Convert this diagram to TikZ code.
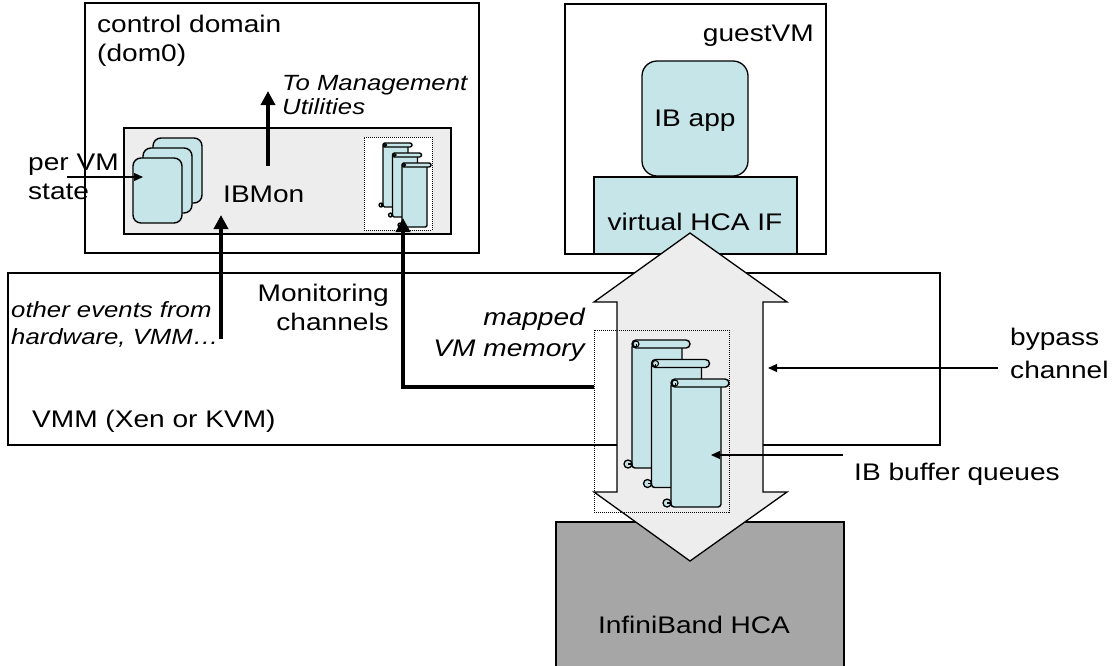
\documentclass[tikz,border=0pt]{standalone}
\usepackage{fontspec}
\setmainfont[FakeStretch=1.17]{Liberation Sans}
\usetikzlibrary{arrows.meta,fit}

\definecolor{paleteal}{RGB}{197,229,232}
\definecolor{panelgray}{RGB}{237,237,237}
\definecolor{hcagray}{RGB}{166,166,166}

\tikzset{
  frame/.style={draw=black, line width=1.3pt, inner sep=0pt, outer sep=0pt},
  txt/.style={font=\fontsize{24}{29}\selectfont, inner sep=0pt},
  itxt/.style={font=\fontsize{24}{29}\selectfont\itshape, inner sep=0pt},
  itxtsmall/.style={font=\fontsize{22}{26}\selectfont\itshape, inner sep=0pt},
  thickarrow/.style={line width=4.5pt, line join=miter, -{Triangle[width=14pt,length=14pt]}},
  thinarrow/.style={line width=1.2pt, -{Triangle[width=8pt,length=9pt]}},
  dottedframe/.style={draw=black, line width=1pt, dash pattern=on 1pt off 1pt, inner sep=0pt, outer sep=0pt},
  card/.style={draw=black, line width=1.4pt, fill=paleteal, rounded corners=8pt},
  % a rolled paper scroll; the argument is the rounding of its top bar
  pics/scrollpic/.style={code={
    % body of the scroll
    \filldraw[fill=paleteal, line width=1.4pt, rounded corners=#1*0.75] (0,4) rectangle (50,128);
    % rolled-up lower edge
    \filldraw[fill=paleteal, line width=1.3pt] (-4,124) circle (4pt);
    \draw[line width=1.1pt] (-4,124) -- (0,124);
    % rolled-up top bar
    \filldraw[fill=paleteal, line width=1.4pt, rounded corners=#1] (0,0) rectangle (58,8);
    \filldraw[fill=paleteal, line width=1.1pt] (4,4) circle (3pt);
    \draw[line width=1pt] (4,4) -- (4,7);
  }},
}

\begin{document}
\begin{tikzpicture}[x=1pt,y=-1pt]
\useasboundingbox (0,0) rectangle (1118,665);

% control domain
\node[frame, fill=white, fit={(85,3)(479,253)}] (dom0) {};
\node[frame, fill=panelgray, fit={(124,128)(451,234)}] (ibmon) {};
\draw[card] (153,138) rectangle (202,203);
\draw[card] (143,148) rectangle (192,213);
\draw[card] (133,158) rectangle (182,223);
\node[dottedframe, fill=white, fit={(364,137)(432,230)}] (smallq) {};
\pic[scale=0.5] at (383,143) {scrollpic=2pt};
\pic[scale=0.5] at (392.5,153) {scrollpic=2pt};
\pic[scale=0.5] at (402,163) {scrollpic=2pt};

% guest VM
\node[frame, fill=white, fit={(565,4)(826,254)}] (guest) {};
\node[frame, fill=paleteal, rounded corners=15pt, fit={(642,61)(748,176)}] (app) {};
\node[frame, fill=paleteal, fit={(594,177)(797,254)}] (vhca) {};

% hypervisor and adapter (the adapter runs off the lower edge)
\node[frame, fit={(8,273)(940,445)}] (vmm) {};
\node[frame, fill=hcagray, fit={(556,522)(844,680)}] (hca) {};

% bypass channel
\filldraw[fill=panelgray, line width=1.3pt, line join=miter]
  (690,233) -- (787,302) -- (763,302) -- (763,492) -- (787,492) -- (690,561)
  -- (594,492) -- (617,492) -- (617,302) -- (594,302) -- cycle;
\coordinate (bypassedge) at (768,368);

% buffer queues
\node[dottedframe, fit={(594,330)(729,512)}] (bigq) {};
\pic at (632,340) {scrollpic=4pt};
\pic at (651.5,359.5) {scrollpic=4pt};
\pic at (671,379) {scrollpic=4pt};
\coordinate (queuepoint) at (711,455);

% thick monitoring arrows
\coordinate (mgmtfrom) at (268,166);
\coordinate (mgmtto) at (268,91);
\draw[thickarrow] (mgmtfrom) -- (mgmtto);
\coordinate (evtfrom) at (221,339);
\coordinate (evtto) at (221,215);
\draw[thickarrow] (evtfrom) -- (evtto);
\coordinate (monfrom) at (594,387);
\coordinate (monbend) at (403,387);
\coordinate (monto) at (403,218);
\draw[thickarrow] (monfrom) -- (monbend) -- (monto);

% labels
\node[txt, anchor=base west] (dom0a) at (97,32) {control domain};
\node[txt, anchor=base west] (dom0b) at (97,61) {(dom0)};
\node[itxtsmall, anchor=base west] (mgmta) at (282,90) {To Management};
\node[itxtsmall, anchor=base west] (mgmtb) at (282,114) {Utilities};
\node[txt, anchor=base west] (pervma) at (28,170) {per VM};
\node[txt, anchor=base west] (pervmb) at (28,199) {state};
\coordinate (pervmfrom) at (67,177);
\coordinate (pervmto) at (143,177);
\draw[thinarrow] (pervmfrom) -- (pervmto);
\node[txt, anchor=base west] (ibmonlabel) at (223,202) {IBMon};
\node[txt, anchor=base east] (mona) at (389,301) {Monitoring};
\node[txt, anchor=base east] (monb) at (389,330) {channels};
\node[itxtsmall, anchor=base west] (evta) at (11,317) {other events from};
\node[itxtsmall, anchor=base west] (evtb) at (11,344) {hardware, VMM…};
\node[itxt, anchor=base east] (mapa) at (585,325) {mapped};
\node[itxt, anchor=base east] (mapb) at (585,356) {VM memory};
\node[txt, anchor=base west] (vmmlabel) at (32,427) {VMM (Xen or KVM)};
\node[txt, anchor=base east] (guestlabel) at (814,41) {guestVM};
\node[txt, anchor=base] (applabel) at (695,126) {IB app};
\node[txt, anchor=base] (vhcalabel) at (695,230) {virtual HCA IF};
\node[txt, anchor=base west] (bypassa) at (1010,345) {bypass};
\node[txt, anchor=base west] (bypassb) at (1010,378) {channel};
\coordinate (bypassfrom) at (998,368);
\draw[thinarrow] (bypassfrom) -- (bypassedge);
\node[txt, anchor=base west] (queuelabel) at (854,480) {IB buffer queues};
\coordinate (queuefrom) at (843,455);
\draw[thinarrow] (queuefrom) -- (queuepoint);
\node[txt, anchor=base] (hcalabel) at (694,633) {InfiniBand HCA};
\end{tikzpicture}
\end{document}
